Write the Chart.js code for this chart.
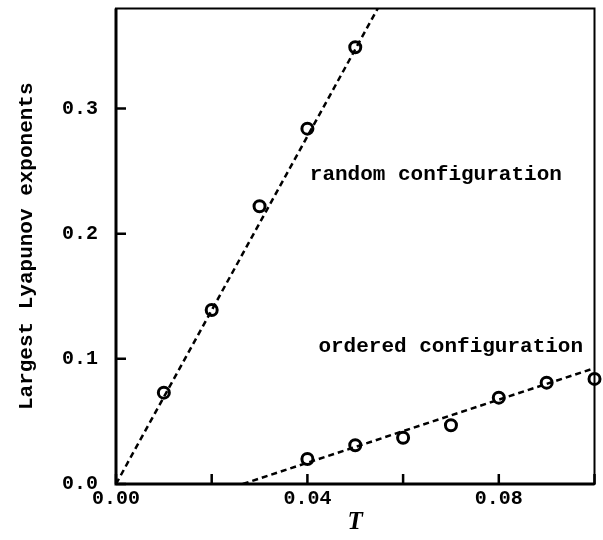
<!DOCTYPE html>
<html>
<head>
<meta charset="utf-8">
<script src="https://cdn.jsdelivr.net/npm/chart.js@4.4.1/dist/chart.umd.min.js"></script>
<style>
  html, body { margin: 0; padding: 0; background: #fff; }
  #wrap { width: 603px; height: 540px; }
</style>
</head>
<body>
<div id="wrap"><canvas id="lyapChart" width="603" height="540"></canvas></div>
<script>
// measured points
const randomT = [0.01, 0.02, 0.03, 0.04, 0.05];
const randomLyap = [0.073, 0.139, 0.222, 0.284, 0.349];
const orderedT = [0.04, 0.05, 0.06, 0.07, 0.08, 0.09, 0.10];
const orderedLyap = [0.020, 0.031, 0.037, 0.047, 0.069, 0.081, 0.084];

// fitted straight lines (end points)
const randomFitT = [0.0, 0.0547];
const randomFitLyap = [0.0, 0.38];
const orderedFitT = [0.0265, 0.10];
const orderedFitLyap = [0.0, 0.0926];

// axis ticks
const xTicks = [0.00, 0.02, 0.04, 0.06, 0.08, 0.10];
const xTickLabels = ['0.00', '', '0.04', '', '0.08', ''];
const yTicks = [0.0, 0.1, 0.2, 0.3];
const yTickLabels = ['0.0', '0.1', '0.2', '0.3'];

const labelFont = 'bold 21px "Liberation Mono", "Courier New", monospace';

function toPoints(xs, ys) {
    return xs.map((x, i) => ({ x: x, y: ys[i] }));
}

// frame, inward ticks and the two text labels
const framePlugin = {
    id: 'frame',
    afterDatasetsDraw(chart) {
        const ctx = chart.ctx;
        const a = chart.chartArea;
        const xs = chart.scales.x;
        const ys = chart.scales.y;
        ctx.save();
        ctx.strokeStyle = '#000';
        ctx.lineWidth = 2;
        ctx.strokeRect(a.left, a.top, a.right - a.left, a.bottom - a.top);
        ctx.lineWidth = 3;
        ctx.beginPath();
        ctx.moveTo(a.left, a.top);
        ctx.lineTo(a.left, a.bottom);
        ctx.lineTo(a.right, a.bottom);
        ctx.stroke();

        ctx.lineWidth = 2.5;
        ctx.beginPath();
        xTicks.forEach(v => {
            const px = xs.getPixelForValue(v);
            ctx.moveTo(px, a.bottom);
            ctx.lineTo(px, a.bottom - 10);
        });
        yTicks.forEach(v => {
            const py = ys.getPixelForValue(v);
            ctx.moveTo(a.left, py);
            ctx.lineTo(a.left + 10, py);
        });
        ctx.stroke();

        ctx.fillStyle = '#000';
        ctx.font = labelFont;
        ctx.textBaseline = 'middle';
        ctx.textAlign = 'left';
        ctx.fillText('random configuration', xs.getPixelForValue(0.0405), ys.getPixelForValue(0.247));
        ctx.fillText('ordered configuration', xs.getPixelForValue(0.0423), ys.getPixelForValue(0.110));
        ctx.restore();
    }
};

const ctx = document.getElementById('lyapChart');
new Chart(ctx, {
    type: 'scatter',
    data: {
        datasets: [
            {
                label: 'random fit',
                data: toPoints(randomFitT, randomFitLyap),
                showLine: true,
                borderColor: '#000',
                borderWidth: 2.5,
                borderDash: [6, 4],
                pointRadius: 0,
                fill: false
            },
            {
                label: 'ordered fit',
                data: toPoints(orderedFitT, orderedFitLyap),
                showLine: true,
                borderColor: '#000',
                borderWidth: 2.5,
                borderDash: [6, 4],
                pointRadius: 0,
                fill: false
            },
            {
                label: 'random configuration',
                data: toPoints(randomT, randomLyap),
                pointStyle: 'circle',
                pointRadius: 5.5,
                pointBorderWidth: 3,
                pointBorderColor: '#000',
                pointBackgroundColor: '#fff',
                clip: false
            },
            {
                label: 'ordered configuration',
                data: toPoints(orderedT, orderedLyap),
                pointStyle: 'circle',
                pointRadius: 5.5,
                pointBorderWidth: 3,
                pointBorderColor: '#000',
                pointBackgroundColor: '#fff',
                clip: false
            }
        ]
    },
    options: {
        responsive: false,
        animation: false,
        layout: { padding: { left: 0, right: 4, top: 5, bottom: 0 } },
        plugins: {
            legend: { display: false },
            tooltip: { enabled: false }
        },
        scales: {
            x: {
                type: 'linear',
                min: 0,
                max: 0.10,
                afterFit: function(scale) {
                    scale.height = 56;
                    scale.paddingLeft = 0;
                    scale.paddingRight = 0;
                },
                afterBuildTicks: function(scale) {
                    scale.ticks = xTicks.map(v => ({ value: v }));
                },
                grid: { display: false, drawTicks: false },
                border: { display: false },
                ticks: {
                    padding: 3,
                    color: '#000',
                    font: { family: '"Liberation Mono", "Courier New", monospace', size: 20, weight: 'bold' },
                    maxRotation: 0,
                    autoSkip: false,
                    callback: function(value, index) { return xTickLabels[index]; }
                },
                title: {
                    display: true,
                    text: 'T',
                    color: '#000',
                    padding: { top: 0, bottom: 2 },
                    font: { family: '"Liberation Serif", "Times New Roman", serif', size: 25, weight: 'bold', style: 'italic' }
                }
            },
            y: {
                type: 'linear',
                min: 0,
                max: 0.38,
                afterFit: function(scale) {
                    scale.width = 116;
                    scale.paddingTop = 0;
                    scale.paddingBottom = 0;
                },
                afterBuildTicks: function(scale) {
                    scale.ticks = yTicks.map(v => ({ value: v }));
                },
                grid: { display: false, drawTicks: false },
                border: { display: false },
                ticks: {
                    padding: 18,
                    color: '#000',
                    font: { family: '"Liberation Mono", "Courier New", monospace', size: 20, weight: 'bold' },
                    autoSkip: false,
                    callback: function(value, index) { return yTickLabels[index]; }
                },
                title: {
                    display: true,
                    text: 'Largest Lyapunov exponents',
                    color: '#000',
                    padding: { top: 14, bottom: 0 },
                    font: { family: '"Liberation Mono", "Courier New", monospace', size: 21, weight: 'bold' }
                }
            }
        }
    },
    plugins: [framePlugin]
});
</script>
</body>
</html>
